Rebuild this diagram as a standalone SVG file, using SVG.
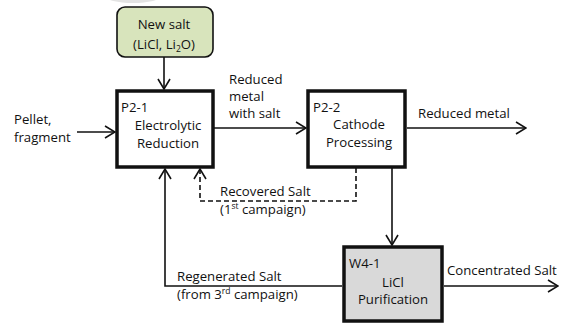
<svg xmlns="http://www.w3.org/2000/svg" width="562" height="323" viewBox="0 0 562 323">
<style>
text{font-family:"Open Sans","Liberation Sans",sans-serif;font-size:13.2px;fill:#111}
.box{stroke:#111;stroke-width:3.5;fill:#fff}
.ln{stroke:#111;stroke-width:1.6;fill:none}
.dash{stroke-dasharray:5,3}
.m{text-anchor:middle}
</style>
<defs>
<marker id="ah" viewBox="0 0 12 14" refX="11" refY="7" markerWidth="12" markerHeight="14" markerUnits="userSpaceOnUse" orient="auto">
<path d="M1,1 L11,7 L1,13" fill="none" stroke="#111" stroke-width="1.6"/>
</marker>
</defs>
<rect width="562" height="323" fill="#fff"/>
<ellipse cx="133" cy="-4" rx="28" ry="7" fill="#e3e3e3"/>
<g id="connectors">
<path class="ln" d="M164,57 V89" marker-end="url(#ah)"/>
<path class="ln" d="M77,132 H115" marker-end="url(#ah)"/>
<path class="ln" d="M214,128 H306" marker-end="url(#ah)"/>
<path class="ln" d="M407,128 H526" marker-end="url(#ah)"/>
<path class="ln dash" d="M356,168 V201 H200 V169" marker-end="url(#ah)"/>
<path class="ln" d="M392,168 V245" marker-end="url(#ah)"/>
<path class="ln" d="M342,286 H165 V169" marker-end="url(#ah)"/>
<path class="ln" d="M444,286 H558" marker-end="url(#ah)"/>
<text x="14" y="124">Pellet,</text>
<text x="14" y="142">fragment</text>
<text x="229" y="84">Reduced</text>
<text x="229" y="101">metal</text>
<text x="229" y="118">with salt</text>
<text x="418" y="118">Reduced metal</text>
<text x="220" y="196">Recovered Salt</text>
<text x="220" y="214">(1<tspan font-size="8.5" dy="-5">st</tspan><tspan dy="5"> campaign)</tspan></text>
<text x="177" y="281">Regenerated Salt</text>
<text x="177" y="299">(from 3<tspan font-size="8.5" dy="-5">rd</tspan><tspan dy="5"> campaign)</tspan></text>
<text x="447" y="275">Concentrated Salt</text>
</g>
<g id="newsalt">
<rect x="117" y="7" width="96" height="50" rx="8" fill="#d8e4bc" stroke="#111" stroke-width="1.6"/>
<text class="m" x="164" y="29">New salt</text>
<text class="m" x="164" y="49">(LiCl, Li<tspan font-size="8.5" dy="3">2</tspan><tspan dy="-3">O)</tspan></text>
</g>
<g id="p21">
<rect class="box" x="117" y="91" width="96" height="76"/>
<text x="121" y="112">P2-1</text>
<text class="m" x="168" y="130">Electrolytic</text>
<text class="m" x="168" y="148">Reduction</text>
</g>
<g id="p22">
<rect class="box" x="308" y="91" width="97" height="76"/>
<text x="313" y="112">P2-2</text>
<text class="m" x="359" y="129">Cathode</text>
<text class="m" x="359" y="147">Processing</text>
</g>
<g id="w41">
<rect class="box" x="344" y="247" width="98" height="74" style="fill:#d9d9d9"/>
<text x="349" y="268">W4-1</text>
<text class="m" x="393" y="287">LiCl</text>
<text class="m" x="393" y="304">Purification</text>
</g>
</svg>
